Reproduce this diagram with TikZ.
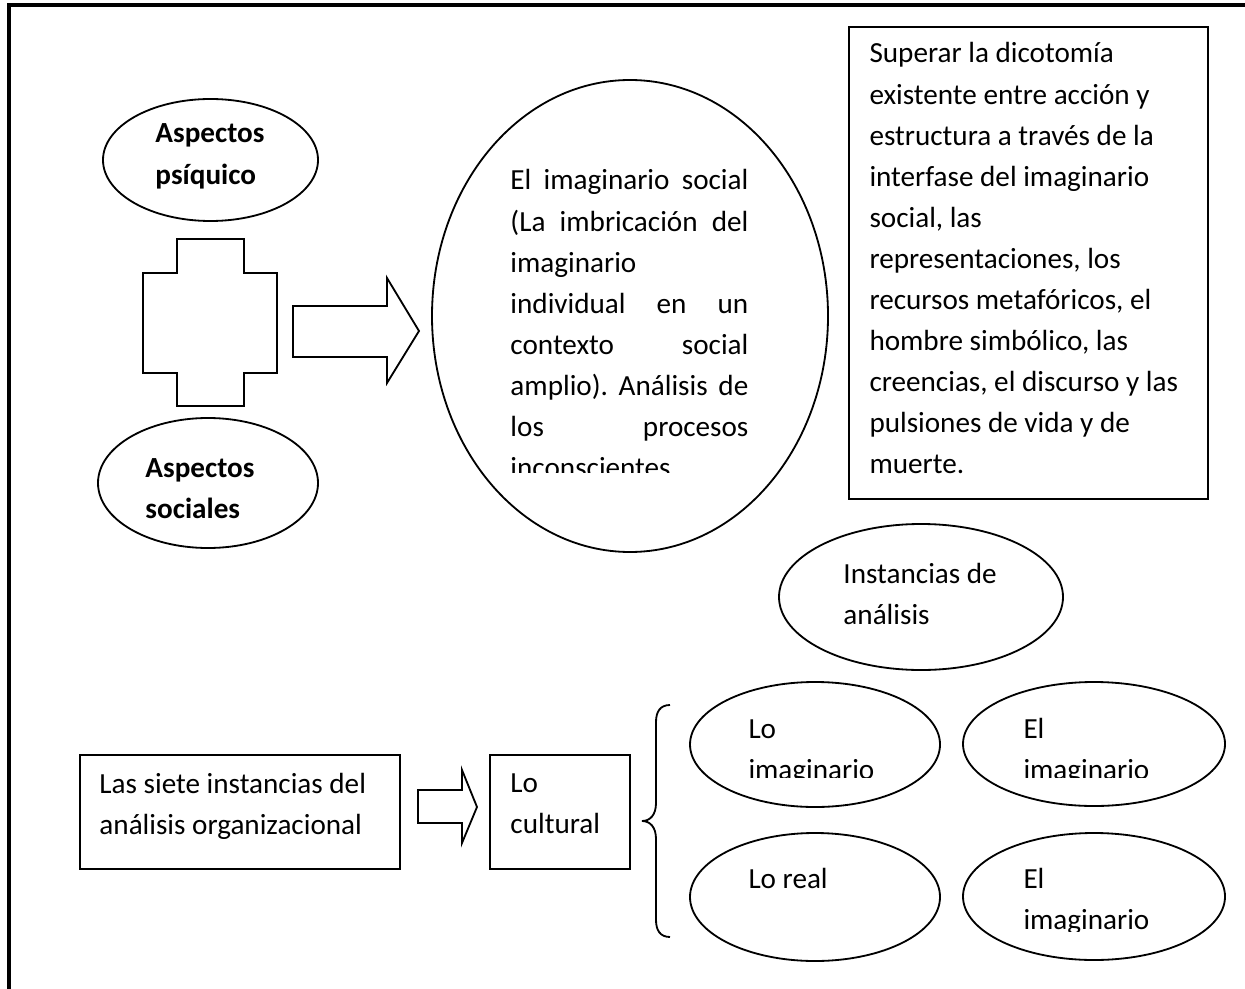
\documentclass[tikz,border=0pt]{standalone}
\usepackage{fontspec}
\setmainfont{Carlito}
\usetikzlibrary{shapes.geometric}
\frenchspacing
% one drawing unit = one pixel of the page (0.4115pt)
\newcommand\px[1]{#1*0.4115pt}
\tikzset{
  oval/.style={draw, ellipse, line width=0.75pt, inner sep=0pt},
  framebox/.style={draw, rectangle, line width=0.9pt, inner sep=0pt, anchor=north west},
  blockshape/.style={draw, line width=0.75pt, line join=miter},
  txt/.style={inner sep=0pt, anchor=base west, font=\fontsize{12}{16.9}\selectfont},
}
\begin{document}
\begin{tikzpicture}[x=0.4115pt, y=-0.4115pt]
\useasboundingbox (0,0) rectangle (1245,989);

% page border (top and left edges)
\draw[line width=1.3pt] (9,989) -- (9,5) -- (1245,5);

% --- upper left: the two aspects joined by a cross ---
\node[oval, minimum width=\px{215}, minimum height=\px{122}] (psi) at (210.5,160) {};
\node[txt, font=\fontsize{12}{16.9}\selectfont\bfseries] (psit) at (155,143)
  {\parbox[t]{60pt}{Aspectos\\psíquico}};

\node[oval, minimum width=\px{220}, minimum height=\px{130}] (soc) at (208,483) {};
\node[txt, font=\fontsize{12}{16.9}\selectfont\bfseries] (soct) at (145,477)
  {\parbox[t]{60pt}{Aspectos\\sociales}};

\draw[blockshape] (177,239) -- (244,239) -- (244,273) -- (277,273) -- (277,373)
  -- (244,373) -- (244,406) -- (177,406) -- (177,373) -- (143,373) -- (143,273)
  -- (177,273) -- cycle;

\draw[blockshape] (293,306) -- (387,306) -- (387,278) -- (419,331) -- (387,383)
  -- (387,357) -- (293,357) -- cycle;

% --- the social imaginary ---
\node[oval, minimum width=\px{396}, minimum height=\px{472}] (imag) at (630,316) {};
\begin{scope}
  \clip (500,150) rectangle (760,472);
  \node[txt] (imagt) at (510,190) {\parbox[t]{97.9pt}{%
    \makebox[\linewidth][s]{El imaginario social}\\
    \makebox[\linewidth][s]{(La imbricación del}\\
    imaginario\\
    \makebox[\linewidth][s]{individual en un}\\
    \makebox[\linewidth][s]{contexto social}\\
    \makebox[\linewidth][s]{amplio). Análisis de}\\
    \makebox[\linewidth][s]{los procesos}\\
    inconscientes}};
\end{scope}

% --- upper right text box ---
\node[framebox, minimum width=\px{359}, minimum height=\px{472}] (sup) at (848,26) {};
\node[txt] (supt) at (869,63) {\parbox[t]{150pt}{%
  Superar la dicotomía\\
  existente entre acción y\\
  estructura a través de la\\
  interfase del imaginario\\
  social, las\\
  representaciones, los\\
  recursos metafóricos, el\\
  hombre simbólico, las\\
  creencias, el discurso y las\\
  pulsiones de vida y de\\
  muerte.}};

% --- instances of analysis ---
\node[oval, minimum width=\px{284}, minimum height=\px{146}] (inst) at (921,597) {};
\node[txt] (instt) at (843,583) {\parbox[t]{80pt}{Instancias de\\análisis}};

\node[framebox, minimum width=\px{320}, minimum height=\px{114}] (siete) at (79,754) {};
\node[txt] (sietet) at (99,793) {\parbox[t]{120pt}{Las siete instancias del\\análisis organizacional}};

\draw[blockshape] (418,790) -- (462,790) -- (462,770) -- (477,807) -- (462,843)
  -- (462,823) -- (418,823) -- cycle;

\node[framebox, minimum width=\px{140}, minimum height=\px{114}] (cult) at (489,754) {};
\node[txt] (cultt) at (510,792) {\parbox[t]{50pt}{Lo\\cultural}};

% curly brace grouping the four instances
\draw[line width=0.75pt] (670,705) .. controls (660,705) and (656,712) .. (656,722)
  -- (656,803) .. controls (656,815) and (650,821) .. (642,821)
  .. controls (650,821) and (656,827) .. (656,839)
  -- (656,920) .. controls (656,930) and (660,937) .. (670,937);

\node[oval, minimum width=\px{250}, minimum height=\px{125}] (o1) at (815,744.5) {};
\node[oval, minimum width=\px{262}, minimum height=\px{124}] (o2) at (1094,744) {};
\node[oval, minimum width=\px{250}, minimum height=\px{128}] (o3) at (815,897) {};
\node[oval, minimum width=\px{262}, minimum height=\px{127}] (o4) at (1094,896.5) {};

\begin{scope}
  \clip (700,700) rectangle (1200,777);
  \node[txt] (o1t) at (748,738) {\parbox[t]{50pt}{Lo\\imaginario}};
  \node[txt] (o2t) at (1023,738) {\parbox[t]{50pt}{El\\imaginario}};
\end{scope}
\node[txt] (o3t) at (748,888) {Lo real};
\begin{scope}
  \clip (1000,850) rectangle (1200,931);
  \node[txt] (o4t) at (1023,888) {\parbox[t]{50pt}{El\\imaginario}};
\end{scope}
\end{tikzpicture}
\end{document}
